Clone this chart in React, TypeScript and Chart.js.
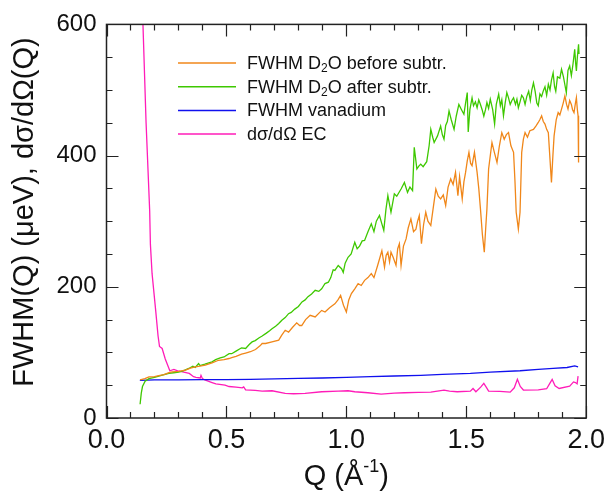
import React, { useEffect, useRef } from "react";
import { Chart, registerables } from "chart.js";

Chart.register(...registerables);

// ---- data ----
const orangeQ = [0.14,0.16,0.177,0.2,0.218,0.24,0.26,0.274,0.3,0.329,0.35,0.37,0.39,0.412,0.44,0.467,0.49,0.511,0.522,0.54,0.563,0.58,0.6,0.621,0.64,0.649,0.663,0.69,0.718,0.73,0.745,0.759,0.775,0.793,0.805,0.814,0.83,0.849,0.87,0.897,0.911,0.93,0.952,0.965,0.976,0.988,1.0,1.01,1.021,1.035,1.049,1.062,1.076,1.09,1.104,1.115,1.13,1.148,1.159,1.166,1.173,1.18,1.186,1.195,1.207,1.214,1.221,1.228,1.238,1.249,1.258,1.269,1.28,1.29,1.297,1.304,1.313,1.322,1.331,1.34,1.352,1.362,1.373,1.383,1.393,1.404,1.414,1.424,1.435,1.445,1.455,1.465,1.472,1.483,1.49,1.497,1.504,1.511,1.518,1.524,1.534,1.545,1.552,1.559,1.567,1.575,1.581,1.586,1.593,1.6,1.607,1.617,1.628,1.638,1.648,1.658,1.667,1.676,1.686,1.697,1.703,1.708,1.717,1.724,1.731,1.738,1.745,1.755,1.765,1.78,1.79,1.8,1.807,1.814,1.821,1.828,1.835,1.842,1.848,1.855,1.861,1.866,1.875,1.883,1.89,1.897,1.904,1.911,1.918,1.924,1.931,1.938,1.943,1.949,1.955,1.959,1.963,1.966,1.968];
const orangeV = [58,60,62.8,63,64.5,66,69,70.4,71,73,76,78,79,80.6,84,88,89,90.7,92,94,97.3,99,101,104.4,110,113.6,113.6,116,118.6,126,133.8,131,138,145,141,141,150,156.6,154,164,161.6,168,174,180,187,172,161.6,180,189.6,197,204.8,202,209.8,214,220,214,232,255,230,248,252.8,238,252.8,245,232.6,258,265.6,232.6,262,273,290,303.6,284,288,300,308.6,265.6,295,313.6,300,293.4,320,349,338,334,340,323.8,352,364.4,356,374.4,339,368,334,360,374.4,392,405,388,384.6,405,374.4,350,318.8,280,252.8,290,318.8,379.6,400,420,405,389.6,415,435,425,432,435,415,405,360,313.6,288,313.6,405,425,435,428,438,440,445,450.5,455,460.6,452,448,440,435,400,359,400,430,455,465.6,462,470.8,480,491,478,470.8,484,478,470,465.6,480,488.4,470,460.6,389.6];

const greenQ = [0.14,0.145,0.15,0.161,0.177,0.2,0.218,0.24,0.26,0.28,0.301,0.32,0.343,0.36,0.37,0.384,0.39,0.41,0.44,0.455,0.474,0.49,0.511,0.522,0.54,0.563,0.58,0.595,0.607,0.62,0.635,0.649,0.665,0.68,0.69,0.705,0.718,0.731,0.745,0.759,0.77,0.785,0.8,0.815,0.828,0.84,0.855,0.87,0.885,0.897,0.911,0.925,0.935,0.945,0.952,0.966,0.98,0.987,0.995,1.007,1.02,1.035,1.045,1.055,1.066,1.076,1.09,1.104,1.115,1.125,1.138,1.148,1.156,1.165,1.173,1.186,1.2,1.21,1.228,1.242,1.255,1.265,1.276,1.283,1.294,1.302,1.31,1.32,1.335,1.345,1.352,1.36,1.366,1.38,1.393,1.4,1.407,1.414,1.421,1.428,1.437,1.449,1.458,1.469,1.48,1.49,1.497,1.504,1.508,1.515,1.524,1.53,1.538,1.545,1.552,1.559,1.566,1.573,1.58,1.586,1.593,1.6,1.61,1.618,1.625,1.635,1.642,1.648,1.655,1.662,1.669,1.676,1.683,1.69,1.697,1.705,1.711,1.717,1.724,1.731,1.738,1.745,1.752,1.76,1.767,1.773,1.78,1.787,1.794,1.8,1.807,1.814,1.821,1.828,1.835,1.842,1.849,1.855,1.862,1.868,1.873,1.88,1.89,1.897,1.905,1.911,1.917,1.924,1.931,1.938,1.945,1.952,1.956,1.959,1.963,1.968,1.97];
const greenV = [21,38,48,56,60,62,64,66,68,69,70,72,75.5,79,77,83,80,82,85.6,89,91.7,93,98,98,102,107,106,112,116,118,122,125,129,133,136,140,144,149,153,159,161,166,170,177,180,185,189,194.6,193,197,205,207,214,226,225,232.6,227.6,222,236,245,250,268,258,262,270,270.6,284,296,284,300,308.6,296,286,318,339,313.6,341.6,338,349,359,344,352,346.6,412.5,379.6,384,387,383,390.7,415,440,428,420,430,445,432,425,446,452,468,455,440,460,478,470,463,480,496,436,470,488,476,482,473,485,478,470,460,470,481,472,486,470,448,478,493.6,476,485,460.6,480,496,488,478,484,488,478,486,473,482,492,488,478,490,498,484,500,511,498,480,476,494,490,498.6,505,492,508.8,500,515,526,505,498,520,518,531.6,520,508,496,530,536.6,522,540,562,540,529,550,569.6,555];

const vanQ = [0.139,0.2,0.3,0.4,0.5,0.6,0.7,0.8,0.9,1.0,1.1,1.2,1.31,1.4,1.517,1.6,1.724,1.8,1.862,1.92,1.952,1.966];
const vanV = [57.5,58,58,58.5,58.5,59,59.5,60.5,61,62,63,64,65,66.5,68,70,72,74,75.5,77,79.5,78];

const ecQ = [0.145,0.152,0.165,0.18,0.183,0.19,0.205,0.215,0.221,0.232,0.245,0.264,0.281,0.297,0.308,0.345,0.363,0.373,0.391,0.394,0.4,0.41,0.44,0.456,0.494,0.511,0.54,0.566,0.572,0.58,0.62,0.649,0.69,0.745,0.78,0.828,0.897,0.966,1.007,1.035,1.09,1.145,1.2,1.242,1.3,1.352,1.407,1.43,1.462,1.517,1.528,1.54,1.56,1.573,1.585,1.593,1.64,1.683,1.7,1.713,1.725,1.738,1.8,1.835,1.85,1.858,1.87,1.887,1.931,1.947,1.955,1.962,1.966];
const ecV = [640,600,450,316,265,220,164,125,109,106,90,72,74,72,71,68,63,62,61,65,60,58,54,52,50,48,47,46,47.5,43,42,41,41.5,37.5,37,37.5,40,41,41.5,40,38.5,36.5,38,38.5,39,39.5,42.6,41,40,41,45,40,47,52.7,46,41,40.5,39.5,46,59,48,42.6,43,44.6,54,58.8,49,45,48.6,55,54,52,63.8];

const seriesLabels = ["FWHM D₂O before subtr.", "FWHM D₂O after subtr.", "FWHM vanadium", "dσ/dΩ EC"];
const seriesColors = ["#f0871a", "#3ec800", "#1010ee", "#ff1cb8"];

const xMajorTicks = [0, 0.5, 1.0, 1.5, 2.0];
const xMinorStep = 0.1;
const yMajorTicks = [0, 200, 400, 600];
const yMinorStep = 50;

const FONT = "'Liberation Sans', Arial, Helvetica, sans-serif";

const pts = (q: number[], v: number[]) => q.map((x, i) => ({ x, y: v[i] }));

const decorPlugin = {
  id: "decor",
  afterDraw(chart: any) {
    const { ctx, chartArea: a, scales } = chart;
    const xs = scales.x, ys = scales.y;
    ctx.save();
    ctx.strokeStyle = "#222";
    ctx.lineWidth = 1.2;
    ctx.beginPath();
    const xmin = xMajorTicks[0], xmax = xMajorTicks[xMajorTicks.length - 1];
    const nX = Math.round((xmax - xmin) / xMinorStep);
    for (let i = 0; i <= nX; i++) {
      const v = xmin + i * xMinorStep;
      const isMajor = xMajorTicks.some((t) => Math.abs(t - v) < 1e-6);
      const L = isMajor ? 12 : 6;
      const px = Math.round(xs.getPixelForValue(v)) + 0.5;
      ctx.moveTo(px, a.bottom); ctx.lineTo(px, a.bottom - L);
      ctx.moveTo(px, a.top); ctx.lineTo(px, a.top + L);
    }
    const ymin = yMajorTicks[0], ymax = yMajorTicks[yMajorTicks.length - 1];
    const nY = Math.round((ymax - ymin) / yMinorStep);
    for (let i = 0; i <= nY; i++) {
      const v = ymin + i * yMinorStep;
      const isMajor = yMajorTicks.includes(v);
      const L = isMajor ? 12 : 6;
      const py = Math.round(ys.getPixelForValue(v)) + 0.5;
      ctx.moveTo(a.left, py); ctx.lineTo(a.left + L, py);
      ctx.moveTo(a.right, py); ctx.lineTo(a.right - L, py);
    }
    ctx.stroke();
    ctx.lineWidth = 1.5;
    ctx.strokeRect(a.left, a.top, a.right - a.left, a.bottom - a.top);

    ctx.fillStyle = "#111";
    // x title: Q (Å^-1)
    {
      const big = `29px ${FONT}`, small = `18px ${FONT}`;
      const parts = [
        { t: "Q (Å", f: big, dy: 0 },
        { t: "-1", f: small, dy: -13 },
        { t: ")", f: big, dy: 0 },
      ];
      let w = 0;
      parts.forEach((p) => { ctx.font = p.f; w += ctx.measureText(p.t).width; });
      let x = (a.left + a.right) / 2 - w / 2;
      const base = 485;
      ctx.textBaseline = "alphabetic";
      ctx.textAlign = "left";
      parts.forEach((p) => { ctx.font = p.f; ctx.fillText(p.t, x, base + p.dy); x += ctx.measureText(p.t).width; });
    }
    // y title
    {
      ctx.save();
      ctx.translate(33, 212);
      ctx.rotate(-Math.PI / 2);
      ctx.font = `29px ${FONT}`;
      ctx.textAlign = "center";
      ctx.textBaseline = "alphabetic";
      ctx.fillText("FWHM(Q) (μeV), dσ/dΩ(Q)", 0, 0);
      ctx.restore();
    }
    // legend
    {
      const lx0 = 178, lx1 = 236, tx = 247, y0 = 63, dy = 23.7;
      chart.data.datasets.forEach((ds: any, i: number) => {
        const y = y0 + i * dy;
        ctx.strokeStyle = ds.borderColor;
        ctx.lineWidth = 1.5;
        ctx.beginPath(); ctx.moveTo(lx0, y); ctx.lineTo(lx1, y); ctx.stroke();
        ctx.fillStyle = "#111";
        ctx.textBaseline = "middle";
        ctx.textAlign = "left";
        const segs = String(ds.label).split("₂");
        let x = tx;
        segs.forEach((s: string, k: number) => {
          ctx.font = `18px ${FONT}`;
          ctx.fillText(s, x, y + 1);
          x += ctx.measureText(s).width;
          if (k < segs.length - 1) {
            ctx.font = `12px ${FONT}`;
            ctx.fillText("2", x, y + 6);
            x += ctx.measureText("2").width;
          }
        });
      });
    }
    ctx.restore();
  },
};

export default function App() {
  const ref = useRef<HTMLCanvasElement | null>(null);
  useEffect(() => {
    document.body.style.margin = "0";
    const canvas = ref.current!;
    const chart = new Chart(canvas, {
      type: "line",
      data: {
        datasets: [
          { label: seriesLabels[0], data: pts(orangeQ, orangeV), borderColor: seriesColors[0] },
          { label: seriesLabels[1], data: pts(greenQ, greenV), borderColor: seriesColors[1] },
          { label: seriesLabels[2], data: pts(vanQ, vanV), borderColor: seriesColors[2] },
          { label: seriesLabels[3], data: pts(ecQ, ecV), borderColor: seriesColors[3] },
        ].map((d) => ({ ...d, borderWidth: 1.3, pointRadius: 0, tension: 0, fill: false })),
      },
      options: {
        animation: false,
        responsive: false,
        devicePixelRatio: 1,
        layout: { padding: { left: 0, right: 21, top: 23, bottom: 0 } },
        plugins: { legend: { display: false }, tooltip: { enabled: false } },
        scales: {
          x: {
            type: "linear",
            min: 0,
            max: 2,
            afterBuildTicks: (s: any) => { s.ticks = xMajorTicks.map((v) => ({ value: v })); },
            ticks: {
              callback: (v: any) => Number(v).toFixed(1),
              font: { size: 27, family: FONT },
              color: "#111",
              padding: 6,
              maxRotation: 0,
              autoSkip: false,
            },
            grid: { display: false, drawTicks: false },
            border: { display: false },
            afterFit: (s: any) => { s.height = 75; },
          },
          y: {
            min: 0,
            max: 600,
            afterBuildTicks: (s: any) => { s.ticks = yMajorTicks.map((v) => ({ value: v })); },
            ticks: {
              font: { size: 24, family: FONT },
              color: "#111",
              padding: 10,
              autoSkip: false,
            },
            grid: { display: false, drawTicks: false },
            border: { display: false },
            afterFit: (s: any) => { s.width = 106.5; },
          },
        },
      },
      plugins: [decorPlugin],
    });
    return () => chart.destroy();
  }, []);
  return <canvas ref={ref} width={611} height={493} style={{ display: "block", width: 611, height: 493 }} />;
}
